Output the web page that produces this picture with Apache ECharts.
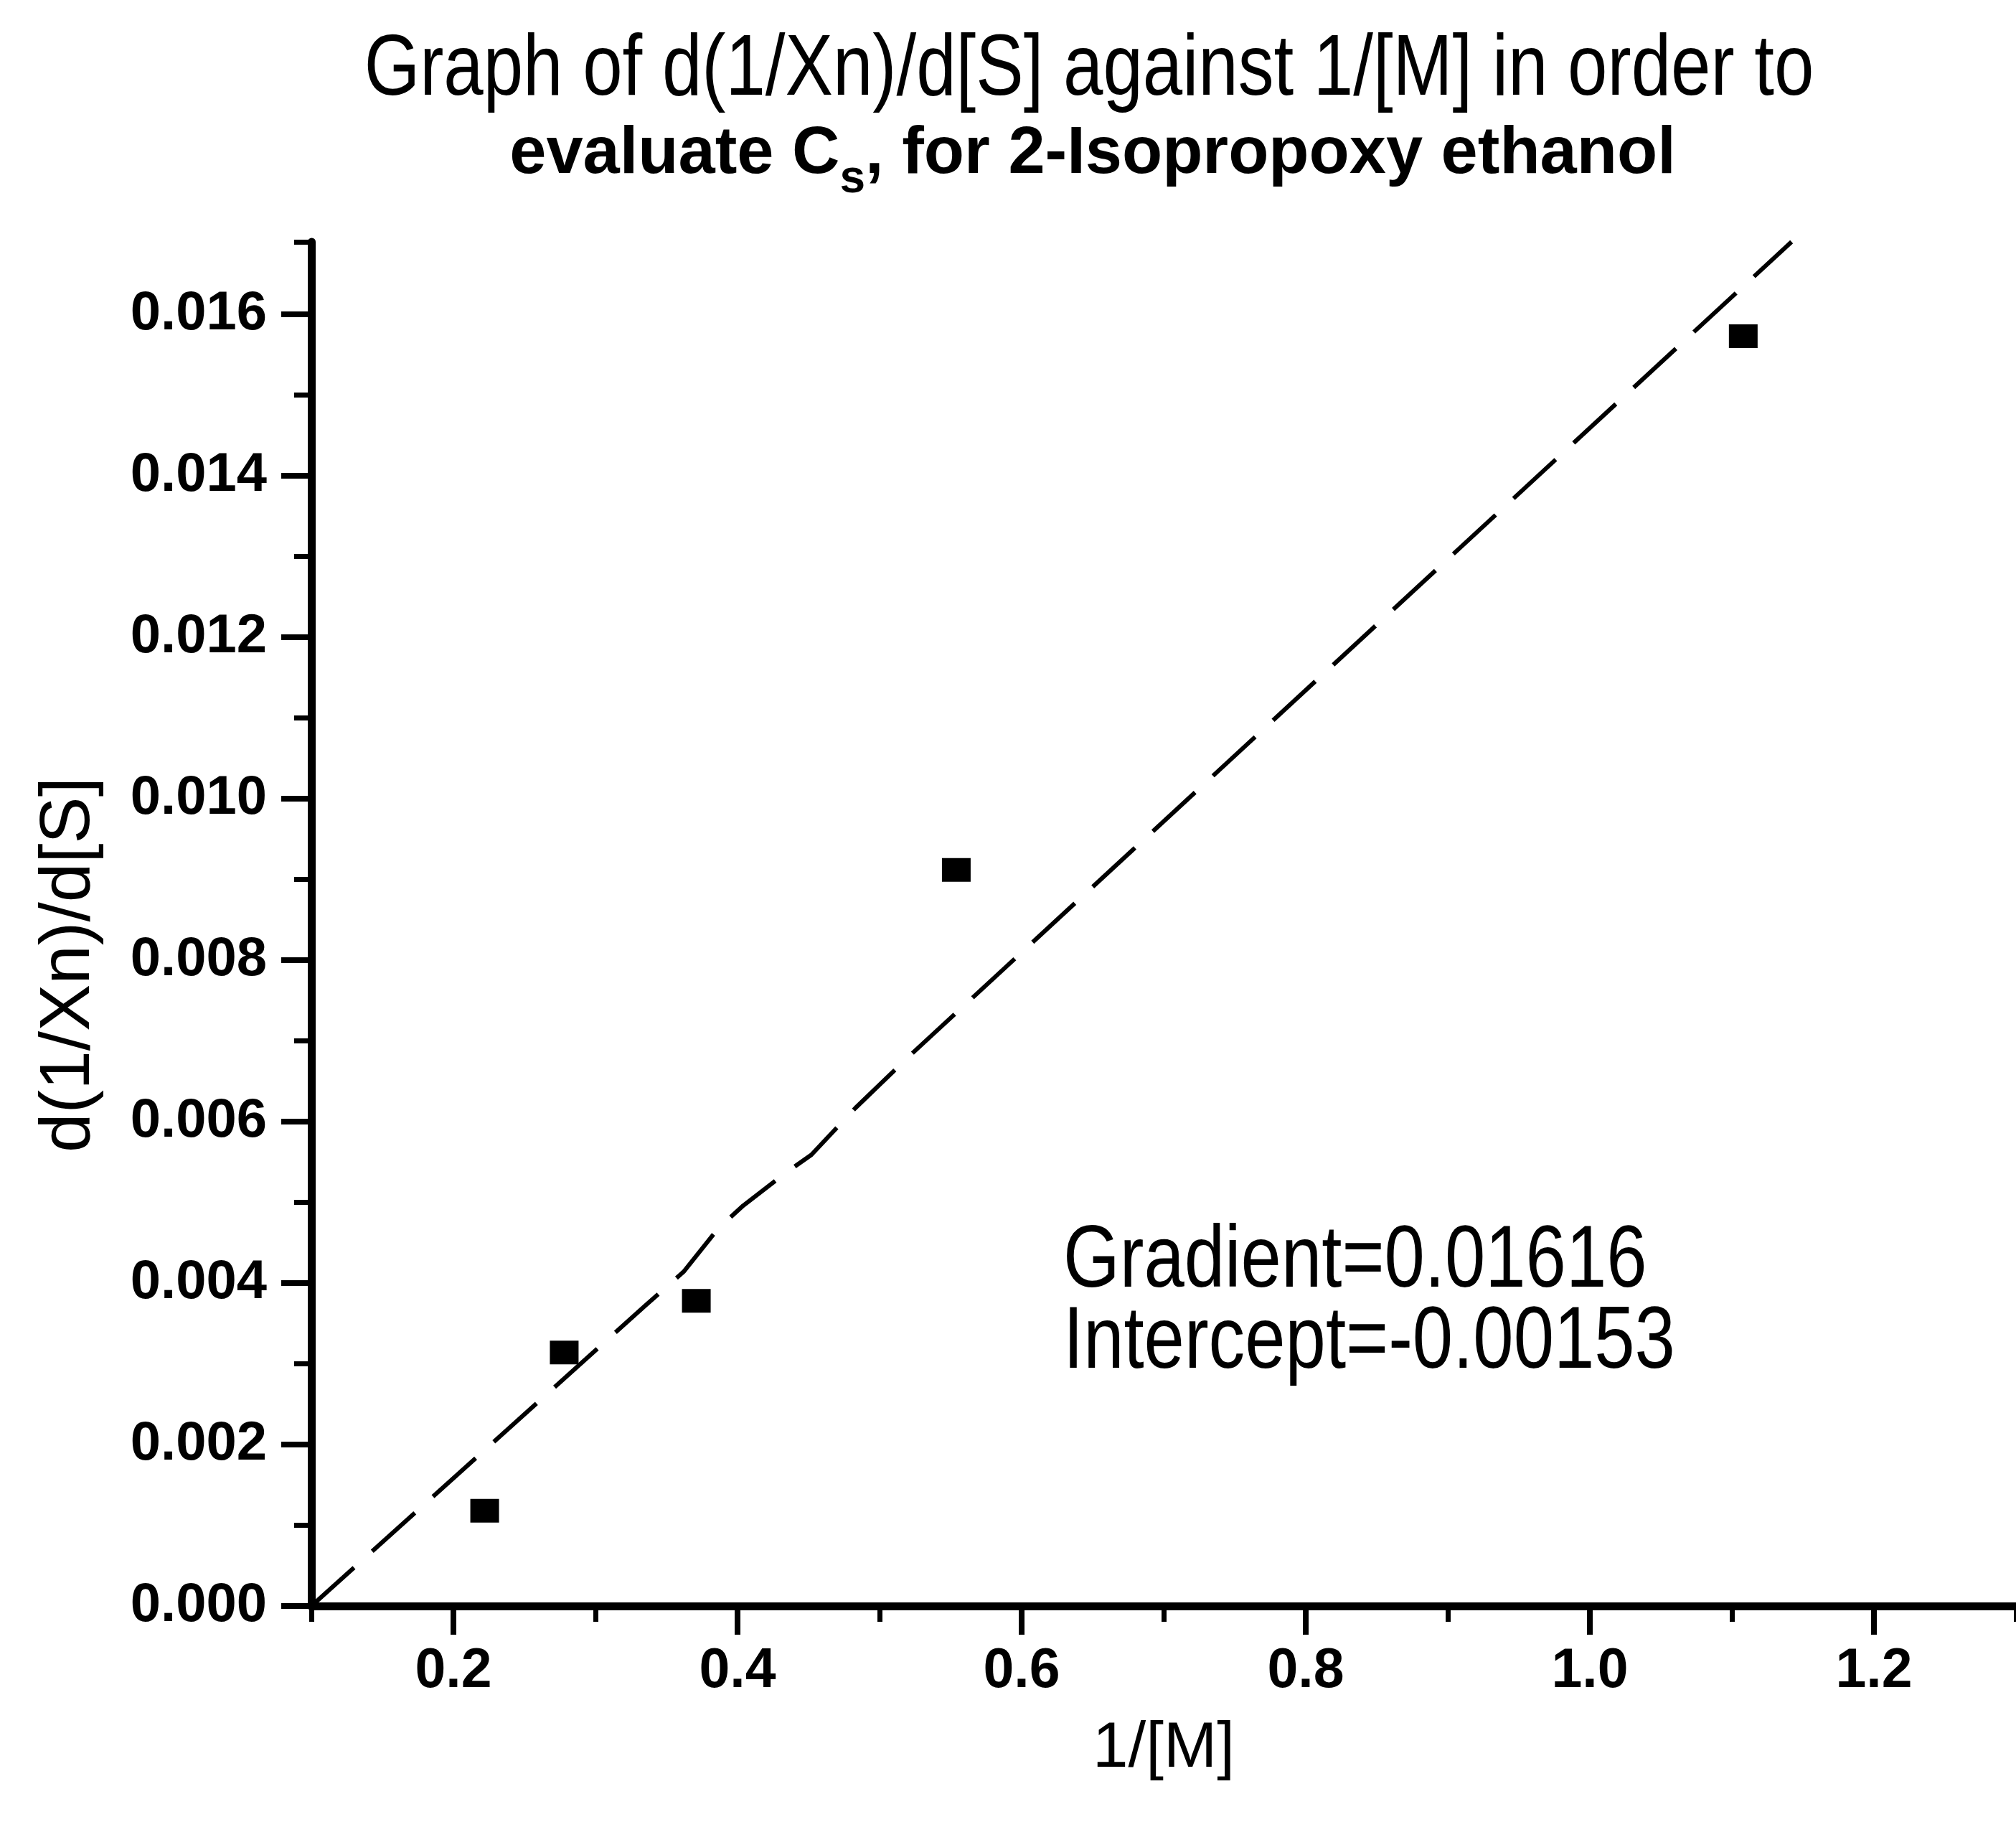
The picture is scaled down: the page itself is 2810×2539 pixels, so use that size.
<!DOCTYPE html>
<html lang="en">
<head>
    <meta charset="UTF-8">
    <title>d(1/Xn)/d[S] against 1/[M]</title>
    <style type="text/css">
        html,
        body,
        .canvas {
            padding: 0;
            margin: 0;
            overflow: hidden;
            background-color: #fff;
            width: 100%;
            height: 100%;
        }
    </style>
</head>
<body>
<div class="canvas" id="chart"></div>
<script type="text/javascript" src="https://cdn.jsdelivr.net/npm/echarts@6/dist/echarts.min.js"></script>
<script>
    // measured points
    const xValues = [0.222, 0.278, 0.371, 0.554, 1.108];
    const yValues = [0.00118, 0.00314, 0.00378, 0.00912, 0.01573];

    // dashed fit line as drawn (it wobbles a little near 0.4)
    const fitX = [0.1, 0.335, 0.362, 0.386, 0.404, 0.435, 0.452, 0.483, 0.522, 1.142];
    const fitY = [0.0, 0.00372, 0.00414, 0.00467, 0.00496, 0.00538, 0.00559, 0.00617, 0.00683, 0.0169];

    const xMajorTicks = [0.2, 0.4, 0.6, 0.8, 1.0, 1.2];
    const xMinorTicks = [0.1, 0.3, 0.5, 0.7, 0.9, 1.1, 1.3];
    const yMajorTicks = [0, 0.002, 0.004, 0.006, 0.008, 0.010, 0.012, 0.014, 0.016];
    const yMinorTicks = [0.001, 0.003, 0.005, 0.007, 0.009, 0.011, 0.013, 0.015, 0.0169];

    const titleLine1 = 'Graph of d(1/Xn)/d[S] against 1/[M] in order to';
    const gradientText = 'Gradient=0.01616';
    const interceptText = 'Intercept=-0.00153';

    function hasFont(name) {
        const ctx = document.createElement('canvas').getContext('2d');
        ctx.font = '40px monospace';
        const a = ctx.measureText(titleLine1).width;
        ctx.font = '40px "' + name + '", monospace';
        return ctx.measureText(titleLine1).width !== a;
    }

    // no narrow face here -> squeeze the regular one where the library lets us
    const narrowOk = hasFont('Liberation Sans Narrow');
    const NARROW = narrowOk ? 'Liberation Sans Narrow' : 'Liberation Sans';
    const nk = narrowOk ? 1 : 0.82;
    const squeeze = narrowOk ? 1 : 0.83;
    const SANS = 'Liberation Sans';

    // y of the middle of a text whose baseline should sit at baseline
    function midFor(baseline, size) {
        return baseline - 0.3465 * size;
    }

    const chart = echarts.init(document.getElementById('chart'));

    chart.setOption({
        animation: false,
        backgroundColor: '#fff',
        title: [{
            text: '{a|evaluate C}{s|s}{a|, for 2-Isopropoxy ethanol}',
            left: 1518,
            textAlign: 'center',
            top: 165,
            textStyle: {
                fontFamily: SANS,
                fontSize: 92,
                fontWeight: 'bold',
                color: '#000',
                rich: {
                    a: {fontFamily: SANS, fontSize: 92, fontWeight: 'bold', lineHeight: 92, verticalAlign: 'top', color: '#000'},
                    s: {fontFamily: SANS, fontSize: 64, fontWeight: 'bold', lineHeight: 112, verticalAlign: 'bottom', color: '#000'}
                }
            }
        }],
        grid: {
            left: 434,
            right: 0,
            top: 337,
            bottom: 301,
            containLabel: false
        },
        xAxis: [{
            type: 'value',
            position: 'bottom',
            min: 0.1,
            max: 1.3,
            splitLine: {show: false},
            axisLine: {show: true, onZero: false, lineStyle: {color: '#000', width: 11}},
            axisTick: {show: true, customValues: xMinorTicks, length: 22, lineStyle: {color: '#000', width: 7}},
            axisLabel: {
                customValues: xMajorTicks,
                formatter: v => v.toFixed(1),
                fontFamily: NARROW,
                fontWeight: 'bold',
                fontSize: Math.round(94 * nk),
                color: '#000',
                margin: 53
            },
            name: '1/[M]',
            nameLocation: 'middle',
            nameGap: 155,
            nameTextStyle: {fontFamily: NARROW, fontSize: Math.round(108 * nk), color: '#000'}
        }, {
            type: 'value',
            position: 'bottom',
            min: 0.1,
            max: 1.3,
            splitLine: {show: false},
            axisLine: {show: false, onZero: false},
            axisTick: {show: true, customValues: xMajorTicks, length: 40, lineStyle: {color: '#000', width: 8}},
            axisLabel: {show: false}
        }],
        yAxis: [{
            type: 'value',
            position: 'left',
            min: 0,
            max: 0.0169,
            splitLine: {show: false},
            axisLine: {show: true, onZero: false, lineStyle: {color: '#000', width: 11}},
            axisTick: {show: true, customValues: yMinorTicks, length: 24, lineStyle: {color: '#000', width: 7}},
            axisLabel: {
                customValues: yMajorTicks,
                formatter: v => v.toFixed(3),
                fontFamily: SANS,
                fontWeight: 'bold',
                fontSize: 76,
                color: '#000',
                margin: 62
            },
            name: 'd(1/Xn)/d[S]',
            nameLocation: 'middle',
            nameGap: 288,
            nameTextStyle: {fontFamily: SANS, fontSize: 98, color: '#000', padding: [0, 114, 0, 0]}
        }, {
            type: 'value',
            position: 'left',
            min: 0,
            max: 0.0169,
            splitLine: {show: false},
            axisLine: {show: false, onZero: false},
            axisTick: {show: true, customValues: yMajorTicks, length: 42, lineStyle: {color: '#000', width: 8}},
            axisLabel: {show: false}
        }],
        graphic: [{
            // main title, condensed like the original
            type: 'text',
            x: 1518,
            y: midFor(140, 120),
            scaleX: squeeze,
            style: {
                text: titleLine1,
                font: '120px "' + SANS + '"',
                align: 'center',
                verticalAlign: 'middle',
                fill: '#000'
            }
        }, {
            type: 'text',
            x: 1482,
            y: midFor(1802, 122),
            scaleX: squeeze,
            style: {text: gradientText, font: '122px "' + SANS + '"', verticalAlign: 'middle', fill: '#000'}
        }, {
            type: 'text',
            x: 1482,
            y: midFor(1915, 122),
            scaleX: squeeze,
            style: {text: interceptText, font: '122px "' + SANS + '"', verticalAlign: 'middle', fill: '#000'}
        }],
        series: [{
            type: 'line',
            xAxisIndex: 0,
            yAxisIndex: 0,
            data: fitX.map((x, i) => [x, fitY[i]]),
            showSymbol: false,
            symbol: 'none',
            clip: false,
            lineStyle: {color: '#000', width: 6, type: [80, 34]},
            z: 2
        }, {
            type: 'scatter',
            xAxisIndex: 0,
            yAxisIndex: 0,
            data: xValues.map((x, i) => [x, yValues[i]]),
            symbol: 'rect',
            symbolSize: [40, 33],
            itemStyle: {color: '#000', opacity: 1},
            z: 3
        }]
    });
</script>
</body>
</html>
